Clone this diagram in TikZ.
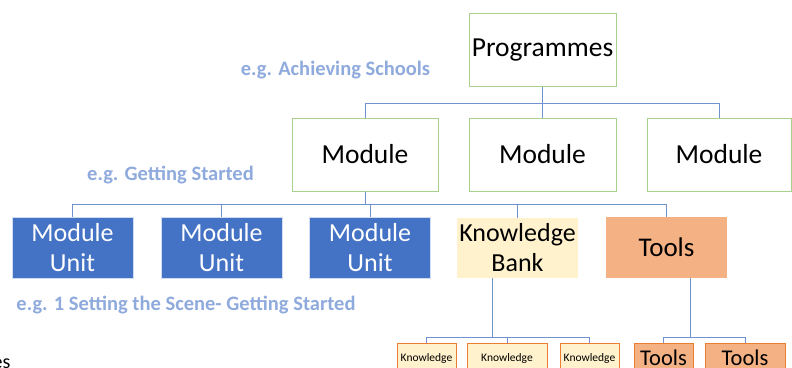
\documentclass[tikz,border=0pt]{standalone}
\usepackage{fontspec}
\setmainfont{Carlito}
\usepackage{tikz}
\usetikzlibrary{positioning}

\definecolor{boxgreen}{RGB}{169,209,142}
\definecolor{unitblue}{RGB}{68,114,196}
\definecolor{bankyellow}{RGB}{255,242,204}
\definecolor{toolorange}{RGB}{244,177,131}
\definecolor{edgeorange}{RGB}{237,125,49}
\definecolor{linkblue}{RGB}{112,146,208}
\definecolor{noteblue}{RGB}{143,170,220}

\tikzset{
	topbox/.style={draw=boxgreen, line width=1pt, minimum height=73pt, inner sep=0pt, font=\fontsize{27.5}{30}\selectfont},
	unitbox/.style={fill=unitblue, draw=white!75!unitblue, text=white, minimum width=121pt, minimum height=61pt, inner sep=0pt, align=center, font=\fontsize{26}{30}\selectfont},
	bankbox/.style={fill=bankyellow, minimum width=121pt, minimum height=60pt, inner sep=0pt, align=center, font=\fontsize{26}{30}\selectfont},
	toolbox/.style={fill=toolorange, minimum width=121pt, minimum height=61pt, inner sep=0pt, font=\fontsize{27}{30}\selectfont},
	smallbank/.style={fill=bankyellow, draw=edgeorange, line width=0.8pt, minimum height=30pt, inner sep=0pt, font=\fontsize{11.5}{13}\selectfont},
	smalltool/.style={fill=toolorange, draw=edgeorange, line width=0.8pt, minimum height=30pt, inner sep=0pt, font=\fontsize{22.5}{26}\selectfont},
	link/.style={draw=linkblue, line width=1pt},
	note/.style={text=noteblue, font=\bfseries\fontsize{20.5}{24}\selectfont}
}

\begin{document}
\begin{tikzpicture}[x=1pt,y=-1pt]
	\clip (0,0) rectangle (792,367);

	%% Programme and Modules %%
	\node [topbox, minimum width=147pt] (prog) at (542.5,50) {Programmes};
	\node [topbox, minimum width=146pt] (modA) at (365,154.5) {Module};
	\node [topbox, minimum width=147pt] (modB) at (542.5,154.5) {Module};
	\node [topbox, minimum width=144pt] (modC) at (719,154.5) {Module};
	\draw [link] (prog.south) -- (modB.north);
	\foreach \n in {modA,modC} \draw [link] (prog.south) -- ++ (0,16) -| (\n.north);

	%% Second Row %%
	\node [unitbox] (unitA) at (72.5,247.5) {Module\\Unit};
	\node [unitbox] (unitB) at (221.5,247.5) {Module\\Unit};
	\node [unitbox] (unitC) at (370,247.5) {Module\\Unit};
	\node [bankbox] (kbank) at (517.5,248) {Knowledge\\Bank};
	\node [toolbox] (tools) at (666.5,247.5) {Tools};
	\foreach \n in {unitA,unitB,unitC,kbank,tools} \draw [link] (modA.south) -- ++ (0,13) -| (\n.north);

	%% Third Row %%
	\node [smallbank, minimum width=59pt] (kA) at (426.5,358) {Knowledge};
	\node [smallbank, minimum width=80pt] (kB) at (507,358) {Knowledge};
	\node [smallbank, minimum width=59pt] (kC) at (589.5,358) {Knowledge};
	\node [smalltool, minimum width=59pt] (tA) at (663.5,358) {Tools};
	\node [smalltool, minimum width=80pt] (tB) at (745,358) {Tools};
	\coordinate (kbfoot) at ([xshift=-25.5pt]kbank.south);
	\coordinate (toolfoot) at ([xshift=23.5pt]tools.south);
	\foreach \n in {kA,kB,kC} \draw [link] (kbfoot) -- ++ (0,59) -| (\n.north);
	\foreach \n in {tA,tB} \draw [link] (toolfoot) -- ++ (0,59) -| (\n.north);

	%% Examples %%
	\node [note] (noteprog) at (335.5,70) {e.g. Achieving Schools};
	\node [note] (notemod) at (170.5,175) {e.g. Getting Started};
	\node [note] (noteunit) at (186,305) {e.g. 1 Setting the Scene- Getting Started};
	\node [anchor=base east, font=\fontsize{20}{24}\selectfont] (cutword) at (14,368) {es};
\end{tikzpicture}
\end{document}
